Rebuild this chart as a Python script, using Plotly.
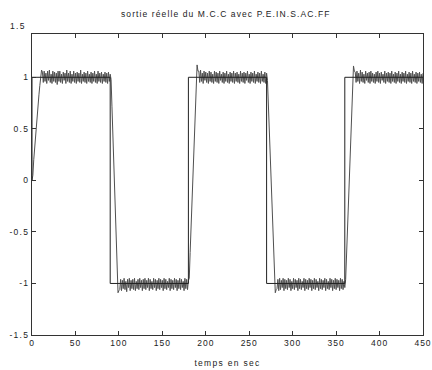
import plotly.graph_objects as go

# reference square wave (consigne)
ref_t = [0, 0, 90, 90, 180, 180, 270, 270, 360, 360, 450]
ref_y = [0, 1, 1, -1, -1, 1, 1, -1, -1, 1, 1]

# measured output, one sample per second
seg0 = [0.00, 0.05, 0.20, 0.32, 0.43, 0.53, 0.63, 0.73, 0.83, 0.92, 1.00, 1.07,
        1.05, 0.95, 1.06, 0.96, 1.04, 0.94, 1.06, 0.97, 1.07, 0.95,
        1.03, 0.94, 1.06, 0.96, 1.05, 0.95, 1.04, 0.93, 1.06, 0.96,
        1.06, 0.95, 1.03, 0.94, 1.05, 0.97, 1.04, 0.94, 1.07, 0.96,
        1.04, 0.95, 1.06, 0.94, 1.03, 0.96, 1.06, 0.95, 1.04, 0.94,
        1.05, 0.96, 1.04, 0.95, 1.07, 0.94, 1.03, 0.96, 1.05, 0.95,
        1.04, 0.94, 1.06, 0.96, 1.03, 0.95, 1.05, 0.94, 1.04, 0.96,
        1.06, 0.95, 1.03, 0.94, 1.06, 0.96, 1.04, 0.95, 1.05, 0.94,
        1.03, 0.96, 1.05, 0.95, 1.04, 0.94, 1.05, 0.96, 1.03]
seg1 = [0.98, 0.72, 0.45, 0.18, -0.10, -0.38, -0.65, -0.92, -1.09, -1.07,
        -1.06, -0.96, -1.07, -0.97, -1.05, -0.95, -1.06, -0.98, -1.08, -0.96,
        -1.04, -0.95, -1.07, -0.97, -1.05, -0.96, -1.06, -0.95, -1.07, -0.98,
        -1.05, -0.96, -1.06, -0.95, -1.04, -0.97, -1.07, -0.96, -1.05, -0.95,
        -1.06, -0.97, -1.04, -0.95, -1.07, -0.96, -1.05, -0.98, -1.06, -0.95,
        -1.04, -0.96, -1.07, -0.97, -1.05, -0.95, -1.06, -0.96, -1.04, -0.97,
        -1.07, -0.95, -1.05, -0.96, -1.06, -0.98, -1.04, -0.95, -1.07, -0.96,
        -1.05, -0.97, -1.06, -0.95, -1.04, -0.96, -1.07, -0.97, -1.05, -0.95,
        -1.06, -0.96, -1.04, -0.98, -1.07, -0.95, -1.05, -0.96, -1.06, -0.97]
seg2 = [-0.95, -0.70, -0.45, -0.20, 0.05, 0.30, 0.55, 0.80, 1.00, 1.12, 1.06,
        1.06, 0.95, 1.07, 0.96, 1.04, 0.94, 1.06, 0.97, 1.05, 0.95,
        1.04, 0.94, 1.06, 0.96, 1.05, 0.95, 1.03, 0.94, 1.06, 0.96,
        1.05, 0.95, 1.04, 0.94, 1.06, 0.97, 1.03, 0.95, 1.05, 0.94,
        1.04, 0.96, 1.06, 0.95, 1.03, 0.94, 1.05, 0.96, 1.04, 0.95,
        1.06, 0.94, 1.04, 0.96, 1.05, 0.95, 1.03, 0.94, 1.06, 0.96,
        1.04, 0.95, 1.05, 0.94, 1.04, 0.97, 1.06, 0.95, 1.03, 0.94,
        1.05, 0.96, 1.04, 0.95, 1.06, 0.94, 1.03, 0.96, 1.05, 0.95,
        1.04, 0.94, 1.06, 0.96, 1.03, 0.95, 1.05, 0.94, 1.04]
seg3 = [0.97, 0.72, 0.47, 0.22, -0.03, -0.28, -0.53, -0.78, -1.02, -1.09, -1.06,
        -1.05, -0.96, -1.07, -0.95, -1.06, -0.97, -1.04, -0.95, -1.07, -0.96,
        -1.05, -0.97, -1.06, -0.95, -1.04, -0.96, -1.07, -0.98, -1.05, -0.95,
        -1.06, -0.96, -1.04, -0.97, -1.07, -0.95, -1.05, -0.96, -1.06, -0.98,
        -1.04, -0.95, -1.07, -0.96, -1.05, -0.97, -1.06, -0.95, -1.04, -0.96,
        -1.07, -0.97, -1.05, -0.95, -1.06, -0.96, -1.04, -0.98, -1.07, -0.95,
        -1.05, -0.96, -1.06, -0.97, -1.04, -0.95, -1.07, -0.96, -1.05, -0.98,
        -1.06, -0.95, -1.04, -0.96, -1.07, -0.97, -1.05, -0.95, -1.06, -0.96,
        -1.04, -0.97, -1.07, -0.95, -1.05, -0.96, -1.06, -0.98, -1.04]
seg4 = [-0.96, -0.72, -0.47, -0.22, 0.03, 0.28, 0.53, 0.78, 1.00, 1.11, 1.06,
        1.05, 0.95, 1.06, 0.96, 1.04, 0.94, 1.07, 0.96, 1.05, 0.95,
        1.03, 0.94, 1.06, 0.97, 1.04, 0.95, 1.05, 0.94, 1.06, 0.96,
        1.04, 0.95, 1.03, 0.94, 1.05, 0.96, 1.06, 0.95, 1.04, 0.94,
        1.05, 0.97, 1.03, 0.95, 1.06, 0.94, 1.04, 0.96, 1.05, 0.95,
        1.04, 0.94, 1.06, 0.96, 1.03, 0.95, 1.05, 0.94, 1.04, 0.96,
        1.06, 0.95, 1.03, 0.94, 1.05, 0.96, 1.04, 0.95, 1.06, 0.94,
        1.03, 0.96, 1.05, 0.95, 1.04, 0.94, 1.06, 0.96, 1.03, 0.95,
        1.05, 0.94, 1.04, 0.96, 1.05, 0.95, 1.03, 0.94, 1.04]

resp_y = seg0 + seg1 + seg2 + seg3 + seg4
resp_t = list(range(len(resp_y)))

x_ticks = [0, 50, 100, 150, 200, 250, 300, 350, 400, 450]
x_tick_text = ["0", "50", "100", "150", "200", "250", "300", "350", "400", "450"]
y_ticks = [-1.5, -1, -0.5, 0, 0.5, 1]
y_tick_text = ["-1.5", "-1", "-0.5", "0", "0.5", "1"]

title_text = "sortie réelle du M.C.C avec P.E.IN.S.AC.FF"
x_title = "temps en sec"

Y_MIN, Y_MAX = -1.5, 1.42


def spaced(s, px=1.3):
    return '<span style="letter-spacing:%.1fpx">%s</span>' % (px, s)


font = dict(family="Liberation Sans, Arial, sans-serif", size=8.5, color="#222222")

fig = go.Figure()
fig.add_trace(go.Scatter(x=resp_t, y=resp_y, mode="lines",
                         line=dict(color="#505050", width=1), showlegend=False))
fig.add_trace(go.Scatter(x=ref_t, y=ref_y, mode="lines",
                         line=dict(color="#222222", width=1), showlegend=False))

axis_common = dict(showgrid=False, zeroline=False, showline=True, linecolor="#333333",
                   linewidth=1, mirror="ticks", ticks="inside", ticklen=4,
                   tickcolor="#333333", tickfont=font, automargin=False,
                   ticklabeloverflow="allow")

fig.update_xaxes(range=[0, 450], tickvals=x_ticks,
                 ticktext=[spaced(s, 1.0) for s in x_tick_text],
                 title=dict(text=spaced(x_title), font=font, standoff=12), **axis_common)
fig.update_yaxes(range=[Y_MIN, Y_MAX], tickvals=y_ticks,
                 ticktext=[spaced(s) for s in y_tick_text], **axis_common)

# "1.5" label sits just above the cropped top frame
fig.add_annotation(x=0, xref="x", y=(1.5 - Y_MIN) / (Y_MAX - Y_MIN), yref="paper",
                   text=spaced("1.5"), showarrow=False, xanchor="right", xshift=-4,
                   yanchor="middle", font=font)
fig.add_annotation(x=0.495, xref="paper", y=1.066, yref="paper",
                   text=spaced(title_text, 1.1),
                   showarrow=False, xanchor="center", yanchor="middle", font=font)

fig.update_layout(
    width=432, height=370,
    margin=dict(l=32, r=9, t=34, b=35),
    paper_bgcolor="white", plot_bgcolor="white",
)

# remove the default page margin so the 432x370 figure fills the window exactly
fig.write_html("out.html",
               config={"displayModeBar": False},
               post_script="document.body.style.margin='0';document.body.style.overflow='hidden';")
